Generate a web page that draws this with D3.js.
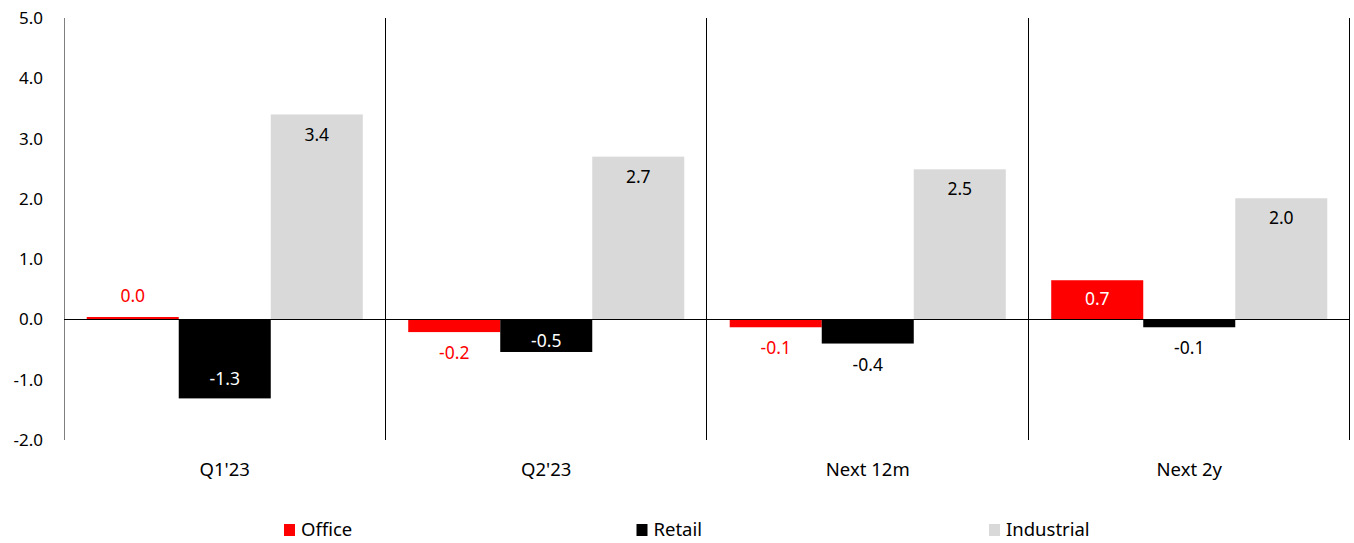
<!DOCTYPE html>
<html>
<head>
<meta charset="utf-8">
<script src="https://cdn.jsdelivr.net/npm/d3@7"></script>
<style>
  html, body { margin: 0; padding: 0; background: #fff; }
  svg { display: block; font-family: "Source Sans Pro", "Noto Sans", sans-serif; }
</style>
</head>
<body>
<svg id="chart" width="1354" height="543"></svg>
<script>
// Categories and series values
const categories = ["Q1'23", "Q2'23", "Next 12m", "Next 2y"];
const seriesNames = ["Office", "Retail", "Industrial"];
const office = [0.04, -0.21, -0.13, 0.65];
const retail = [-1.31, -0.54, -0.40, -0.13];
const industrial = [3.40, 2.70, 2.49, 2.01];
const yTicks = [-2, -1, 0, 1, 2, 3, 4, 5];

(function () {
  const seriesValues = [office, retail, industrial];
  const colors = ["#ff0000", "#000000", "#d9d9d9"];
  const insideText = ["#ffffff", "#ffffff", "#000000"];
  const outsideText = ["#ff0000", "#000000", "#000000"];
  const tickSize = 17, valueSize = 17.5, labelSize = 18.5;

  const svg = d3.select("#chart");
  const plotLeft = 64, plotRight = 1350, plotTop = 18, plotBottom = 440;

  const x0 = d3.scaleBand().domain(categories).range([plotLeft, plotRight]).paddingInner(0).paddingOuter(0);
  const x1 = d3.scaleBand().domain(seriesNames).range([0, x0.bandwidth()]).paddingInner(0).paddingOuter(0.247);
  const y = d3.scaleLinear().domain([-2, 5]).range([plotBottom, plotTop]);

  // one decimal, plain hyphen for negatives
  const fmt = d3.formatLocale({ decimal: ".", thousands: ",", grouping: [3], currency: ["", ""], minus: "-" }).format(".1f");

  // Y axis labels
  svg.append("g").selectAll("text").data(yTicks).join("text")
    .attr("x", 43).attr("y", d => y(d)).attr("dy", "0.35em")
    .attr("text-anchor", "end").attr("font-size", tickSize).attr("fill", "#000")
    .text(d => fmt(d));

  // Left axis line
  svg.append("line").attr("x1", plotLeft + 0.5).attr("x2", plotLeft + 0.5)
    .attr("y1", plotTop).attr("y2", plotBottom).attr("stroke", "#7f7f7f").attr("stroke-width", 1);

  // Category separators
  const seps = categories.map(c => x0(c) + x0.bandwidth());
  svg.append("g").selectAll("line").data(seps).join("line")
    .attr("x1", d => Math.round(d) - 0.5).attr("x2", d => Math.round(d) - 0.5)
    .attr("y1", plotTop).attr("y2", plotBottom).attr("stroke", "#000").attr("stroke-width", 1);

  // Bars
  const rows = [];
  categories.forEach((c, i) => {
    seriesNames.forEach((s, j) => rows.push({ cat: c, s, j, v: seriesValues[j][i] }));
  });

  const g = svg.append("g");
  g.selectAll("rect").data(rows).join("rect")
    .attr("x", d => x0(d.cat) + x1(d.s))
    .attr("width", x1.bandwidth())
    .attr("y", d => Math.min(y(d.v), y(0)))
    .attr("height", d => Math.abs(y(d.v) - y(0)))
    .attr("fill", d => colors[d.j]);

  // Zero line
  svg.append("line").attr("x1", plotLeft).attr("x2", plotRight)
    .attr("y1", Math.round(y(0)) + 0.5).attr("y2", Math.round(y(0)) + 0.5)
    .attr("stroke", "#000").attr("stroke-width", 1);

  // Value labels: inside the bar end when the bar is tall enough, otherwise outside
  const isShort = d => Math.abs(y(d.v) - y(0)) < 28;
  g.selectAll("text").data(rows).join("text")
    .attr("x", d => x0(d.cat) + x1(d.s) + x1.bandwidth() / 2)
    .attr("y", d => {
      const end = y(d.v), base = y(0);
      const dir = d.v >= 0 ? 1 : -1; // +1: bar goes up
      if (isShort(d)) return end - dir * 21;
      let c = end + dir * 20;
      if (Math.abs(c - base) < 21) c = base - dir * 21;
      return c;
    })
    .attr("dy", "0.35em")
    .attr("text-anchor", "middle").attr("font-size", valueSize)
    .attr("fill", d => isShort(d) ? outsideText[d.j] : insideText[d.j])
    .text(d => fmt(d.v));

  // Category labels
  svg.append("g").selectAll("text").data(categories).join("text")
    .attr("x", d => x0(d) + x0.bandwidth() / 2).attr("y", 470).attr("dy", "0.35em")
    .attr("text-anchor", "middle").attr("font-size", labelSize).attr("fill", "#000")
    .text(d => d);

  // Legend
  const legend = svg.append("g").selectAll("g").data(seriesNames).join("g")
    .attr("transform", (d, i) => `translate(${284 + i * 352.5},530)`);
  legend.append("rect").attr("x", 0).attr("y", -6).attr("width", 11).attr("height", 12)
    .attr("fill", (d, i) => colors[i]);
  legend.append("text").attr("x", 17).attr("y", 0).attr("dy", "0.35em")
    .attr("font-size", labelSize).attr("fill", "#000").text(d => d);
})();
</script>
</body>
</html>
